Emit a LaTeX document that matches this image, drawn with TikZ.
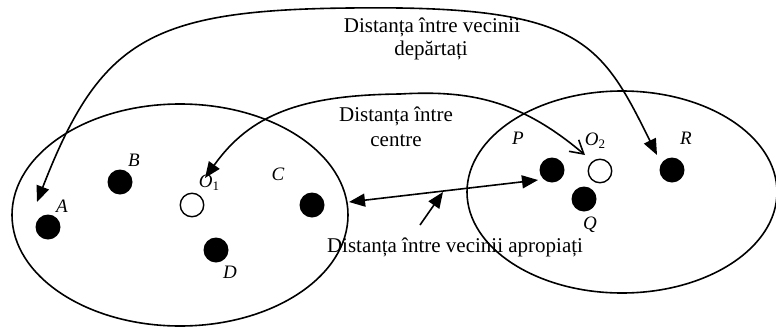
\documentclass[tikz,border=0pt]{standalone}
\usepackage{fontspec}
\setmainfont{Liberation Serif}
\usetikzlibrary{arrows.meta}
\begin{document}
\begin{tikzpicture}[x=1pt,y=-1pt,
  line/.style={line width=1.6pt},
  dot/.style={circle,fill=black,minimum size=25pt,inner sep=0pt},
  odot/.style={circle,draw=black,fill=white,line width=1.4pt,minimum size=23.5pt,inner sep=0pt},
  lbl/.style={font=\fontsize{19}{22}\selectfont\itshape,inner sep=0pt,anchor=base},
  txt/.style={font=\fontsize{21}{24}\selectfont,inner sep=0pt,anchor=base},
  ftip/.tip={Triangle[length=16pt,width=13pt]},
  otip/.tip={Straight Barb[length=13pt,width=15pt,line width=1.6pt]}
]
\useasboundingbox (0,0) rectangle (776,327);

% clusters
\draw[line] (180,215) ellipse [x radius=168, y radius=111];
\draw[line] (622,192) ellipse [x radius=155, y radius=101];

% points
\node[dot] (A) at (48,227) {};
\node[dot] (B) at (120,182) {};
\node[odot] (O1) at (192,205) {};
\node[dot] (C) at (312,205) {};
\node[dot] (D) at (216,250) {};
\node[dot] (P) at (552,170) {};
\node[odot] (O2) at (600,171) {};
\node[dot] (Q) at (584,199) {};
\node[dot] (R) at (672,170) {};

% point labels
\node[lbl] (lA) at (62,212) {A};
\node[lbl] (lB) at (134,166) {B};
\node[lbl] (lO1) at (209,187) {O\raisebox{-3.5pt}{\upshape\fontsize{13}{13}\selectfont 1}};
\node[lbl] (lC) at (278,180) {C};
\node[lbl] (lD) at (230,278) {D};
\node[lbl] (lP) at (518,144) {P};
\node[lbl] (lO2) at (595,145) {O\raisebox{-3.5pt}{\upshape\fontsize{13}{13}\selectfont 2}};
\node[lbl] (lQ) at (590,229) {Q};
\node[lbl] (lR) at (686,144) {R};

% texts
\node[txt] (t1a) at (432,32) {Distanța între vecinii};
\node[txt] (t1b) at (431,55) {depărtați};
\node[txt] (t2a) at (396,121) {Distanța între};
\node[txt] (t2b) at (396,146) {centre};
\node[txt] (t3) at (455,252) {Distanța între vecinii apropiați};

% arrow end points
\coordinate (a1) at (37,202);
\coordinate (r1) at (657,155);
\coordinate (o1t) at (205,178);
\coordinate (o2t) at (585,155);
\coordinate (ct) at (349,202);
\coordinate (pt) at (538,180);
\coordinate (mid) at (443,192);
\coordinate (lt) at (420,225);

% farthest neighbours
\draw[line,{ftip}-{ftip}] (a1) .. controls (100,40) and (150,10) .. (350,8)
  .. controls (580,5) and (600,40) .. (r1);
% centres
\draw[line,{ftip}-{otip}] (o1t) .. controls (250,115) and (300,95) .. (400,94)
  .. controls (470,90) and (520,100) .. (o2t);
% nearest neighbours
\draw[line,{ftip}-{ftip}] (ct) -- (pt);
\draw[line,-{ftip}] (lt) -- (mid);
\end{tikzpicture}
\end{document}
